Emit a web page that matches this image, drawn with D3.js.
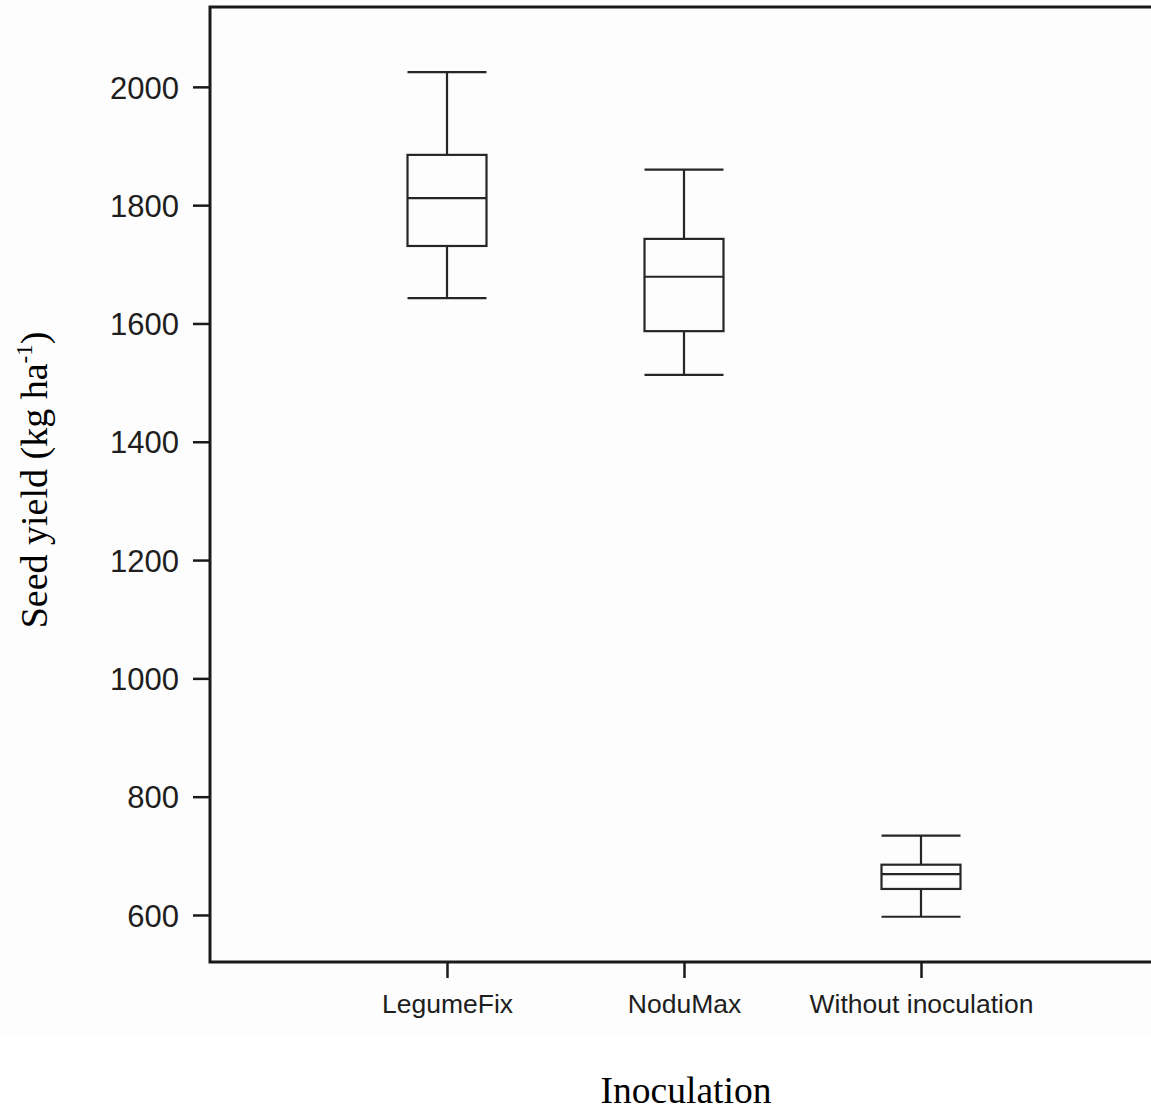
<!DOCTYPE html>
<html>
<head>
<meta charset="utf-8">
<script src="https://cdn.jsdelivr.net/npm/d3@7"></script>
<style>
  body { margin: 0; background: #fff; }
  svg { display: block; }
</style>
</head>
<body>
<div id="vis"></div>
<script>
// data
const groups = ["LegumeFix", "NoduMax", "Without inoculation"];
const whiskerHigh = [2025, 1860, 734];
const q3 = [1885, 1743, 685];
const medians = [1812, 1679, 669];
const q1 = [1731, 1587, 644];
const whiskerLow = [1643, 1513, 597];
const yTicks = [600, 800, 1000, 1200, 1400, 1600, 1800, 2000];

const width = 1151, height = 1110;
const svg = d3.select("#vis").append("svg").attr("width", width).attr("height", height);

svg.append("rect").attr("x", 0).attr("y", 0).attr("width", width).attr("height", 1034).attr("fill", "#fdfdfd");

const plotLeft = 210, plotTop = 7, plotBottom = 962;
const y = d3.scaleLinear().domain([520.5, 2135]).range([plotBottom, plotTop]);
const x = d3.scalePoint().domain(groups).range([plotLeft, plotLeft + 237 * 4]).padding(1);

let yAxis = d3.axisLeft(y).tickValues(yTicks).tickSize(17).tickPadding(14).tickFormat(d3.format("d"));
let xAxis = d3.axisBottom(x).tickSize(16).tickPadding(16);

const ga = svg.append("g").attr("transform", `translate(${plotLeft},0)`).call(yAxis);
const gb = svg.append("g").attr("transform", `translate(0,${plotBottom})`).call(xAxis);
[ga, gb].forEach(g => {
  g.select(".domain").remove();
  g.selectAll("line").attr("stroke", "#1a1a1a").attr("stroke-width", 2.5);
  g.selectAll("text").attr("fill", "#1e1e1e").style("font-family", "'Liberation Sans', Arial, sans-serif");
});
ga.selectAll("text").style("font-size", "31px").attr("dy", "0.36em");
gb.selectAll("text").style("font-size", "26.5px");

// frame: left, top, bottom lines
svg.append("path")
  .attr("d", `M${width},${plotTop}H${plotLeft}V${plotBottom}H${width}`)
  .attr("fill", "none").attr("stroke", "#1a1a1a").attr("stroke-width", 3);

const bw = 79;
const boxes = svg.append("g").attr("stroke", "#262626").attr("stroke-width", 2.2).attr("fill", "none");
groups.forEach((g, i) => {
  const cx = x(g);
  boxes.append("line").attr("x1", cx).attr("x2", cx).attr("y1", y(whiskerHigh[i])).attr("y2", y(q3[i]));
  boxes.append("line").attr("x1", cx).attr("x2", cx).attr("y1", y(q1[i])).attr("y2", y(whiskerLow[i]));
  boxes.append("line").attr("x1", cx - bw / 2).attr("x2", cx + bw / 2).attr("y1", y(whiskerHigh[i])).attr("y2", y(whiskerHigh[i]));
  boxes.append("line").attr("x1", cx - bw / 2).attr("x2", cx + bw / 2).attr("y1", y(whiskerLow[i])).attr("y2", y(whiskerLow[i]));
  boxes.append("rect").attr("x", cx - bw / 2).attr("width", bw).attr("y", y(q3[i])).attr("height", y(q1[i]) - y(q3[i]));
  boxes.append("line").attr("x1", cx - bw / 2).attr("x2", cx + bw / 2).attr("y1", y(medians[i])).attr("y2", y(medians[i]));
});

// axis titles
const serif = "'Liberation Serif', 'Times New Roman', serif";
const yt = svg.append("text")
  .attr("transform", "translate(47,480) rotate(-90)")
  .attr("text-anchor", "middle")
  .style("font-family", serif).style("font-size", "38px").attr("fill", "#000");
yt.append("tspan").text("Seed yield (kg ha");
yt.append("tspan").attr("dy", "-15").style("font-size", "23px").text("-1");
yt.append("tspan").attr("dy", "15").text(")");

svg.append("text")
  .attr("x", 686).attr("y", 1103)
  .attr("text-anchor", "middle")
  .style("font-family", serif).style("font-size", "37.5px").attr("fill", "#000")
  .text("Inoculation");
</script>
</body>
</html>
